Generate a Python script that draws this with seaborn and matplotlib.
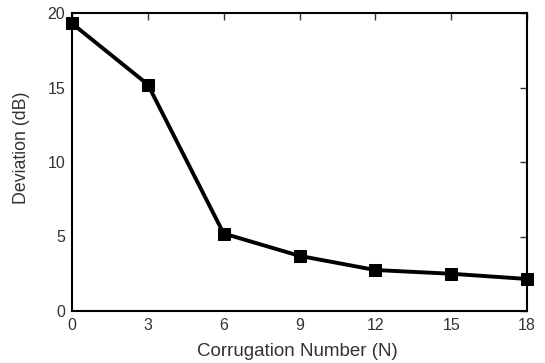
import matplotlib
matplotlib.use("Agg")
import matplotlib.pyplot as plt
import seaborn as sns
import pandas as pd

corrugation = [0, 3, 6, 9, 12, 15, 18]
deviation = [19.3, 15.2, 5.2, 3.7, 2.75, 2.5, 2.15]
x_ticks = [0, 3, 6, 9, 12, 15, 18]
y_ticks = [0, 5, 10, 15, 20]

sns.set_theme(style="white")
plt.rcParams['font.family'] = ['Liberation Sans', 'DejaVu Sans']

df = pd.DataFrame({"N": corrugation, "dev": deviation})

fig = plt.figure(figsize=(5.45, 3.63), dpi=100)
ax = fig.add_axes([72/545, 1 - 311/363, (527-72)/545, (311-13)/363])
sns.lineplot(data=df, x="N", y="dev", ax=ax, color="black", linewidth=2.8,
             marker="s", markersize=8, markeredgecolor="black", markerfacecolor="black")
ax.set_xlim(0, 18)
ax.set_ylim(0, 20)
ax.set_xticks(x_ticks)
ax.set_yticks(y_ticks)
ax.tick_params(direction="in", length=5, width=1, colors="#333333", labelsize=11.5,
               top=True, right=True, labelcolor="#333333", pad=5)
for s in ax.spines.values():
    s.set_color("black")
    s.set_linewidth(1.5)
ax.set_xlabel("Corrugation Number (N)", fontsize=13.5, color="#333333")
ax.set_ylabel("Deviation (dB)", fontsize=12.8, color="#333333")
ax.xaxis.set_label_coords((297.5 - 72) / 455, -(351 - 311) / 298)
ax.yaxis.set_label_coords(-(72 - 21.5) / 455, (311 - 147.5) / 298)
ax.xaxis.label.set_va("center")
ax.yaxis.label.set_va("center")
for line in ax.lines:
    line.set_clip_on(False)
fig.savefig("out.png", dpi=100)
